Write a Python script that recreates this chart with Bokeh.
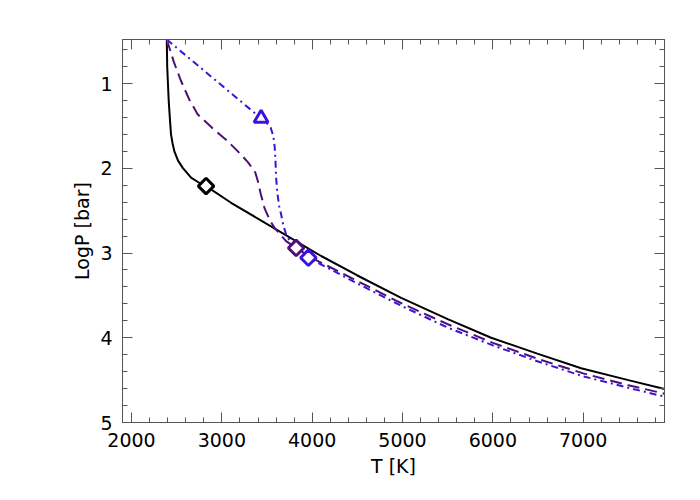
import numpy as np
from bokeh.plotting import figure
from bokeh.models import Range1d, LinearAxis, FixedTicker, CustomLabelingPolicy
from bokeh.embed import file_html
from bokeh.resources import INLINE

# ---- data ----
black_T = [2390, 2395, 2403, 2412, 2425, 2437, 2455, 2474, 2515, 2567, 2659,
           2740, 2825, 3102, 3600, 4099, 4500, 4985, 5500, 5981, 6500, 6977,
           7500, 7900]
black_P = [0.48, 0.80, 1.00, 1.21, 1.42, 1.60, 1.71, 1.80, 1.91, 1.995, 2.11,
           2.165, 2.21, 2.407, 2.72, 3.035, 3.265, 3.53, 3.78, 4.00, 4.19, 4.36,
           4.50, 4.605]

purple_T = [2390, 2470, 2548, 2640, 2733, 2900, 3065, 3213, 3290, 3370, 3398,
            3430, 3471, 3530, 3581, 3711, 3822, 4000, 4500, 5000, 5500, 6000,
            6500, 7000, 7500, 7900]
purple_P = [0.48, 0.75, 0.97, 1.19, 1.365, 1.53, 1.68, 1.84, 1.93, 2.05, 2.15,
            2.30, 2.466, 2.61, 2.70, 2.86, 2.94, 3.06, 3.33, 3.60, 3.84, 4.06,
            4.25, 4.42, 4.56, 4.66]

blue_T = [2390, 3434, 3500, 3540, 3570, 3585, 3593, 3600, 3615, 3635, 3655,
          3680, 3711, 3785, 3958, 4500, 5000, 5500, 6000, 6500, 7000, 7500, 7900]
blue_P = [0.48, 1.41, 1.47, 1.52, 1.62, 1.75, 1.90, 2.10, 2.30, 2.45, 2.54,
          2.67, 2.78, 2.92, 3.055, 3.36, 3.63, 3.88, 4.09, 4.28, 4.455, 4.59, 4.695]

black_diamond = (2825, 2.21)
purple_diamond = (3822, 2.94)
blue_diamond = (3958, 3.055)
blue_triangle = (3434, 1.41)

x_major = [2000, 3000, 4000, 5000, 6000, 7000]
y_major = [1, 2, 3, 4, 5]

BLACK = "#000000"
PURPLE = "#4d0f78"
BLUE = "#3b12dc"
FRAME = "#555555"
FONT = "DejaVu Sans"

p = figure(width=684, height=484, x_range=Range1d(1900, 7900),
           y_range=Range1d(5.0, 0.48), output_backend="svg",
           toolbar_location=None, min_border_left=122, min_border_right=20,
           min_border_top=39, min_border_bottom=62)
p.grid.visible = False
p.outline_line_color = FRAME
p.background_fill_color = "white"
p.border_fill_color = "white"

x_minor = list(np.arange(2000, 7900, 200))
y_minor = list(np.round(np.arange(0.6, 5.01, 0.2), 2))
xt = FixedTicker(ticks=x_major, minor_ticks=x_minor)
yt = FixedTicker(ticks=y_major, minor_ticks=y_minor)

hide_all = CustomLabelingPolicy(
    code="for (const i of Array.from(indices)) { indices.unset(i) } return indices")

def style_axis(ax, labels=True, label_standoff=8):
    ax.axis_line_color = FRAME
    ax.major_tick_line_color = FRAME
    ax.minor_tick_line_color = FRAME
    ax.major_tick_in = 10
    ax.major_tick_out = 0
    ax.minor_tick_in = 5
    ax.minor_tick_out = 0
    ax.major_tick_line_width = 1
    ax.minor_tick_line_width = 1
    if labels:
        ax.major_label_text_font = FONT
        ax.major_label_text_font_size = "19px"
        ax.major_label_text_color = "#000000"
        ax.major_label_standoff = 10
        ax.axis_label_text_font = FONT
        ax.axis_label_text_font_size = "19px"
        ax.axis_label_text_font_style = "normal"
        ax.axis_label_text_color = "#000000"
        ax.axis_label_standoff = label_standoff
    else:
        ax.major_label_policy = hide_all
        ax.major_label_standoff = 0

p.xaxis.ticker = xt
p.yaxis.ticker = yt
p.xaxis.axis_label = "T [K]"
p.yaxis.axis_label = "LogP [bar]"
style_axis(p.xaxis[0], label_standoff=5)
style_axis(p.yaxis[0], label_standoff=4)

top = LinearAxis(ticker=FixedTicker(ticks=x_major, minor_ticks=x_minor))
style_axis(top, labels=False)
p.add_layout(top, "above")
right = LinearAxis(ticker=FixedTicker(ticks=y_major, minor_ticks=y_minor))
style_axis(right, labels=False)
p.add_layout(right, "right")

p.line(black_T, black_P, line_color=BLACK, line_width=2)
p.line(purple_T, purple_P, line_color=PURPLE, line_width=2, line_dash="12 6")
p.line(blue_T, blue_P, line_color=BLUE, line_width=2, line_dash="7 4 2 4")

p.scatter([black_diamond[0]], [black_diamond[1]], marker="square", angle=np.pi/4,
          size=11, fill_color="white", line_color=BLACK, line_width=3)
p.scatter([purple_diamond[0]], [purple_diamond[1]], marker="square", angle=np.pi/4,
          size=11, fill_color="white", line_color=PURPLE, line_width=3)
p.scatter([blue_diamond[0]], [blue_diamond[1]], marker="square", angle=np.pi/4,
          size=11, fill_color="white", line_color=BLUE, line_width=3)
p.scatter([blue_triangle[0]], [blue_triangle[1]], marker="triangle",
          size=14, fill_color="white", line_color=BLUE, line_width=3)

open("out.html", "w").write(file_html(p, INLINE))
